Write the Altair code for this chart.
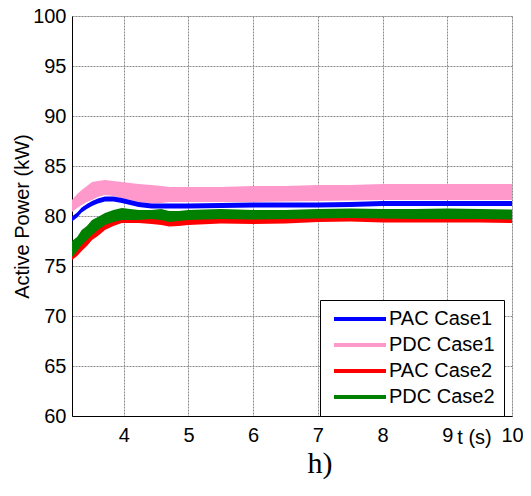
import altair as alt
import pandas as pd

# time axis (s)
t = [3.2, 3.28, 3.35, 3.43, 3.51, 3.6, 3.71, 3.84, 3.97, 4.1, 4.23, 4.43, 4.58,
     4.7, 4.85, 5.0, 5.5, 6.0, 6.5, 7.0, 7.5, 8.0, 8.5, 9.0, 9.5, 10.0]

# PAC Case1 band (kW)
pac1_hi = [79.95, 80.35, 80.85, 81.2, 81.5, 81.75, 81.95, 81.95, 81.8, 81.6, 81.4, 81.25, 81.25,
           81.25, 81.25, 81.25, 81.3, 81.35, 81.35, 81.35, 81.4, 81.5, 81.5, 81.5, 81.5, 81.5]
pac1_lo = [79.45, 79.85, 80.35, 80.7, 81.0, 81.25, 81.45, 81.45, 81.3, 81.1, 80.9, 80.75, 80.75,
           80.75, 80.75, 80.75, 80.8, 80.85, 80.85, 80.85, 80.9, 81.0, 81.0, 81.0, 81.0, 81.0]
# PDC Case1 band
pdc1_hi = [81.6, 82.2, 82.6, 83.0, 83.4, 83.5, 83.6, 83.5, 83.4, 83.3, 83.2, 83.1, 83.0,
           82.9, 82.9, 82.9, 82.9, 83.0, 83.0, 83.1, 83.1, 83.2, 83.2, 83.2, 83.2, 83.2]
pdc1_lo = [80.4, 80.8, 81.1, 81.4, 81.6, 81.9, 82.1, 82.0, 81.75, 81.6, 81.4, 81.25, 81.3,
           81.4, 81.4, 81.4, 81.4, 81.4, 81.45, 81.5, 81.55, 81.6, 81.6, 81.6, 81.6, 81.6]
# PAC Case2 band
pac2_hi = [76.4, 76.8, 77.3, 77.8, 78.4, 78.8, 79.4, 79.8, 80.1, 80.1, 80.1, 80.0, 79.9,
           79.75, 79.8, 79.9, 80.05, 80.0, 80.05, 80.2, 80.25, 80.15, 80.15, 80.15, 80.15, 80.1]
pac2_lo = [75.6, 76.0, 76.5, 77.0, 77.6, 78.0, 78.6, 79.0, 79.3, 79.3, 79.3, 79.2, 79.1,
           78.95, 79.0, 79.1, 79.25, 79.2, 79.25, 79.4, 79.45, 79.35, 79.35, 79.35, 79.35, 79.3]
# PDC Case2 band
pdc2_hi = [77.5, 77.9, 78.6, 79.0, 79.6, 79.9, 80.3, 80.6, 80.8, 80.7, 80.6, 80.6, 80.7,
           80.5, 80.5, 80.6, 80.7, 80.6, 80.6, 80.7, 80.75, 80.7, 80.7, 80.75, 80.7, 80.65]
pdc2_lo = [75.9, 76.5, 77.1, 77.6, 78.1, 78.6, 79.1, 79.4, 79.6, 79.6, 79.6, 79.7, 79.6,
           79.4, 79.5, 79.6, 79.7, 79.65, 79.7, 79.75, 79.8, 79.75, 79.7, 79.7, 79.7, 79.65]

series_names = ["PAC Case1", "PDC Case1", "PAC Case2", "PDC Case2"]
series_colors = ["#0000ff", "#ff99cc", "#ff0000", "#008000"]
x_ticks = [4, 5, 6, 7, 8, 9, 10]
y_ticks = [60, 65, 70, 75, 80, 85, 90, 95, 100]

bands = {
    "PAC Case1": (pac1_lo, pac1_hi),
    "PDC Case1": (pdc1_lo, pdc1_hi),
    "PAC Case2": (pac2_lo, pac2_hi),
    "PDC Case2": (pdc2_lo, pdc2_hi),
}
rows = []
for name, (lo, hi) in bands.items():
    for ti, l, h in zip(t, lo, hi):
        rows.append({"t": ti, "lo": l, "hi": h, "series": name})
df = pd.DataFrame(rows)

FONT = "Liberation Sans"
x_enc = alt.X("t:Q",
              scale=alt.Scale(domain=[3.2, 10], nice=False, zero=False),
              axis=alt.Axis(values=x_ticks, title="t (s)", titleFont=FONT, titleFontSize=20,
                            titleFontWeight="normal", titleColor="black",
                            titleX=402, titleY=27, titleAlign="center", titleBaseline="alphabetic",
                            labelFont=FONT, labelFontSize=20, labelColor="black",
                            labelPadding=9, labelFlush=False, ticks=False,
                            domainColor="black", grid=True, gridColor="#8a8a8a",
                            gridDash=[2, 1], gridWidth=1))
y_enc = alt.Y("lo:Q",
              scale=alt.Scale(domain=[60, 100], nice=False, zero=False),
              axis=alt.Axis(values=y_ticks, title="Active Power (kW)", titleFont=FONT,
                            titleFontSize=20, titleFontWeight="normal", titleColor="black",
                            titlePadding=0,
                            labelFont=FONT, labelFontSize=20, labelColor="black",
                            labelPadding=6, labelFlush=False, ticks=False,
                            domainColor="black", grid=True, gridColor="#8a8a8a",
                            gridDash=[2, 1], gridWidth=1))

base = alt.Chart(df)


def band(name):
    color = series_colors[series_names.index(name)]
    return base.transform_filter(alt.datum.series == name).mark_area(
        color=color, opacity=1).encode(x=x_enc, y=y_enc, y2="hi:Q")


legend_layer = base.transform_filter("false").mark_line(strokeWidth=4).encode(
    x=x_enc, y=y_enc,
    color=alt.Color("series:N",
                    scale=alt.Scale(domain=series_names, range=series_colors),
                    legend=alt.Legend(title=None, orient="none", legendX=248, legendY=284,
                                      symbolType="M-1,0H9.4", symbolSize=100,
                                      symbolStrokeWidth=4, labelFont=FONT, labelFontSize=20,
                                      labelColor="black", labelOffset=40,
                                      strokeColor="black", fillColor="white",
                                      padding=9, rowPadding=6)))

chart = alt.layer(
    band("PDC Case1"), band("PAC Case1"), band("PAC Case2"), band("PDC Case2"), legend_layer
).properties(
    width=440, height=400,
    padding={"left": 64, "top": 8, "right": 11, "bottom": 72},
    autosize=alt.AutoSizeParams(type="none"),
    title=alt.TitleParams(text="h)", orient="bottom", font="Liberation Serif", fontSize=30,
                          fontWeight="normal", color="black", dx=28, offset=2),
).configure_view(stroke="black", strokeWidth=1).configure(background="white")

chart.save("out.html", embed_options={"renderer": "svg", "actions": False})
